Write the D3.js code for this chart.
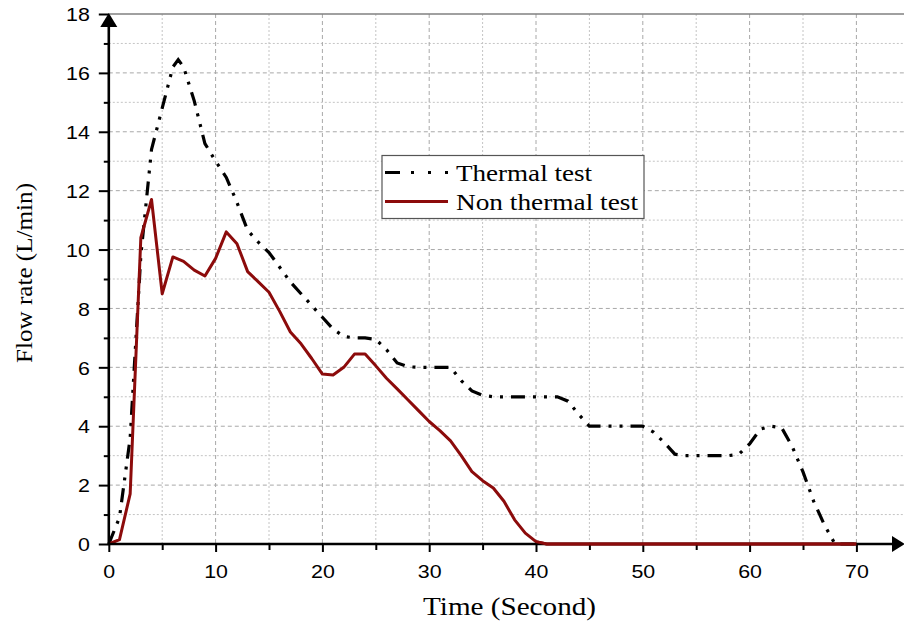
<!DOCTYPE html>
<html><head><meta charset="utf-8">
<script src="https://cdn.jsdelivr.net/npm/d3@7"></script>
<style>
body{margin:0;background:#fff}svg{display:block}
.sans{font-family:"Liberation Sans",Arial,Helvetica,sans-serif}
.serif{font-family:"Liberation Serif","Times New Roman",Times,serif}
</style>
</head><body>
<svg id="c" width="904" height="623"></svg>
<script>
// ---- data ----
const thermalTime = [0,1,2,3,4,5,6,6.5,7,8,9,10,11,12,13,14,15,16,17,18,19,20,21,22,23,24,25,26,27,28,29,30,31,32,33,34,35,36,37,38,39,40,41,42,43,44,45,46,47,48,49,50,51,52,53,54,55,56,57,58,59,60,61,62,63,64,65,66,67,68,69,70];
const thermal = [0,0.9,3.6,9.8,13.4,14.8,16.2,16.45,16.2,15.05,13.6,13.0,12.45,11.6,10.65,10.25,9.9,9.4,8.9,8.5,8.1,7.7,7.3,7.05,7.0,7.0,6.95,6.6,6.15,6.02,6.0,6.0,6.0,6.0,5.55,5.2,5.05,5.0,5.0,5.0,5.0,5.0,5.0,5.0,4.85,4.4,4.0,4.0,4.0,4.0,4.0,4.0,3.8,3.45,3.05,3.0,3.0,3.0,3.0,3.0,3.05,3.4,3.9,4.0,3.95,3.3,2.45,1.45,0.65,0,0,0];
const nonThermalTime = [0,1,2,3,4,5,6,7,8,9,10,11,12,13,14,15,16,17,18,19,20,21,22,23,24,25,26,27,28,29,30,31,32,33,34,35,36,37,38,39,40,41,70];
const nonThermal = [0,0.15,1.7,10.4,11.7,8.5,9.75,9.6,9.3,9.1,9.7,10.6,10.2,9.25,8.9,8.55,7.9,7.2,6.8,6.3,5.77,5.74,6.0,6.45,6.45,6.05,5.63,5.27,4.9,4.53,4.16,3.85,3.5,3.0,2.46,2.15,1.9,1.45,0.82,0.37,0.08,0,0];
const xMajorTicks = [0,10,20,30,40,50,60,70];
const xMinorTicks = [5,15,25,35,45,55,65];
const yMajorTicks = [0,2,4,6,8,10,12,14,16,18];
const yMinorTicks = [1,3,5,7,9,11,13,15,17];
const seriesNames = ["Thermal test","Non thermal test"];
const xTitle = "Time (Second)";
const yTitle = "Flow rate (L/min)";

// ---- layout ----
const svg = d3.select("#c");
const x = d3.scaleLinear().domain([0,75]).range([108.8, 909.8]);
const y = d3.scaleLinear().domain([0,18]).range([544, 14]);
const x0 = x(0), y0 = y(0), yTop = y(18), xRight = 904;
const red = "#8c0b0b";

function stretch(sel, f){
  sel.each(function(){
    const w = this.getComputedTextLength();
    d3.select(this).attr("textLength", w*f).attr("lengthAdjust","spacingAndGlyphs");
  });
}

// grid
const g = svg.append("g");
g.selectAll(".vmin").data(xMinorTicks).join("line")
  .attr("x1",d=>x(d)).attr("x2",d=>x(d)).attr("y1",yTop).attr("y2",y0)
  .attr("stroke","#c4c4c4").attr("stroke-width",1).attr("stroke-dasharray","2,2");
g.selectAll(".hmin").data(yMinorTicks).join("line")
  .attr("x1",x0).attr("x2",xRight).attr("y1",d=>y(d)).attr("y2",d=>y(d))
  .attr("stroke","#c4c4c4").attr("stroke-width",1).attr("stroke-dasharray","2,2");
g.selectAll(".vmaj").data(xMajorTicks.filter(d=>d>0)).join("line")
  .attr("x1",d=>x(d)).attr("x2",d=>x(d)).attr("y1",yTop).attr("y2",y0)
  .attr("stroke","#a8a8a8").attr("stroke-width",1).attr("stroke-dasharray","4,3");
g.selectAll(".hmaj").data(yMajorTicks.filter(d=>d>0 && d<18)).join("line")
  .attr("x1",x0).attr("x2",xRight).attr("y1",d=>y(d)).attr("y2",d=>y(d))
  .attr("stroke","#a8a8a8").attr("stroke-width",1).attr("stroke-dasharray","4,3");
// top border
svg.append("line").attr("x1",x0).attr("x2",xRight).attr("y1",yTop).attr("y2",yTop)
  .attr("stroke","#808080").attr("stroke-width",1.5);

// series
const lineGen = d3.line().x(d=>x(d[0])).y(d=>y(d[1]));
svg.append("path").datum(thermalTime.map((t,i)=>[t,thermal[i]]))
  .attr("d",lineGen).attr("fill","none").attr("stroke","#000").attr("stroke-width",3.2)
  .attr("stroke-dasharray","14,8,3,8,3,8");
svg.append("path").datum(nonThermalTime.map((t,i)=>[t,nonThermal[i]]))
  .attr("d",lineGen).attr("fill","none").attr("stroke",red).attr("stroke-width",3)
  .attr("stroke-linejoin","round");

// axes
const xa = svg.append("g").attr("transform",`translate(0,${y0})`)
  .call(d3.axisBottom(x).tickValues(xMajorTicks).tickSize(8).tickSizeOuter(0).tickFormat(d3.format("d")));
const xam = svg.append("g").attr("transform",`translate(0,${y0})`)
  .call(d3.axisBottom(x).tickValues(xMinorTicks).tickSize(6).tickSizeOuter(0).tickFormat(""));
const ya = svg.append("g").attr("transform",`translate(${x0},0)`)
  .call(d3.axisLeft(y).tickValues(yMajorTicks).tickSize(10).tickSizeOuter(0).tickFormat(d3.format("d")));
const yam = svg.append("g").attr("transform",`translate(${x0},0)`)
  .call(d3.axisLeft(y).tickValues(yMinorTicks).tickSize(5).tickSizeOuter(0).tickFormat(""));
[xa,xam,ya,yam].forEach(a=>{
  a.attr("font-family",null).attr("font-size",null);
  a.select(".domain").remove();
  a.selectAll("line").attr("stroke","#000").attr("stroke-width",2);
  a.selectAll("text").attr("class","sans").style("font-size","18.6px").attr("fill","#000");
});
xa.selectAll("text").attr("y",33.6).attr("dy","0");
ya.selectAll("text").attr("x",-19).attr("dy","0.36em");
stretch(xa.selectAll("text"),1.15);
stretch(ya.selectAll("text"),1.15);

// axis lines with arrows
svg.append("line").attr("x1",x0).attr("x2",x0).attr("y1",y0+1).attr("y2",yTop+10)
  .attr("stroke","#000").attr("stroke-width",2.6);
svg.append("path").attr("d",`M${x0},${yTop-1}L${x0-8.5},${yTop+13}L${x0+8.5},${yTop+13}Z`).attr("fill","#000");
svg.append("line").attr("x1",x0-1).attr("x2",xRight-8).attr("y1",y0).attr("y2",y0)
  .attr("stroke","#000").attr("stroke-width",2.6);
svg.append("path").attr("d",`M${xRight+1},${y0}L${xRight-12},${y0-8}L${xRight-12},${y0+8}Z`).attr("fill","#000");

// red over axis at zero
svg.append("path").datum(nonThermalTime.map((t,i)=>[t,nonThermal[i]]).filter(d=>d[0]>=40))
  .attr("d",lineGen).attr("fill","none").attr("stroke",red).attr("stroke-width",3);

// titles
svg.append("text").attr("class","serif").attr("x",423).attr("y",615)
  .style("font-size","25px").attr("fill","#000").text(xTitle)
  .attr("textLength",173).attr("lengthAdjust","spacingAndGlyphs");
svg.append("text").attr("class","serif").attr("transform","translate(32,273) rotate(-90)")
  .attr("text-anchor","middle").style("font-size","23px").attr("fill","#000").text(yTitle)
  .attr("textLength",180).attr("lengthAdjust","spacingAndGlyphs");

// legend
const lg = svg.append("g");
lg.append("rect").attr("x",382).attr("y",155.5).attr("width",262).attr("height",63)
  .attr("fill","#fff").attr("stroke","#555").attr("stroke-width",1.2);
lg.append("line").attr("x1",385).attr("x2",450).attr("y1",172.5).attr("y2",172.5)
  .attr("stroke","#000").attr("stroke-width",3.2).attr("stroke-dasharray","15,11,3,14,3,14,3,100");
lg.append("line").attr("x1",385).attr("x2",448).attr("y1",201.5).attr("y2",201.5)
  .attr("stroke",red).attr("stroke-width",3);
lg.selectAll("text.l").data(seriesNames).join("text")
  .attr("class","serif")
  .attr("x",456).attr("y",(d,i)=>i===0?181:210)
  .style("font-size","23px").attr("fill","#000").text(d=>d)
  .attr("textLength",(d,i)=>i===0?136:182).attr("lengthAdjust","spacingAndGlyphs");
</script>
</body></html>
